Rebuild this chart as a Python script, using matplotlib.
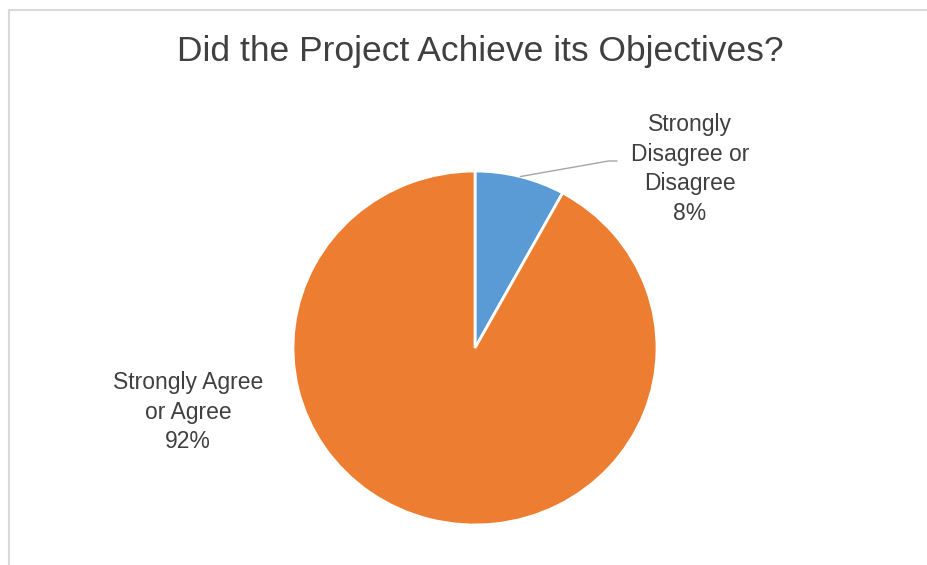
import matplotlib
matplotlib.use("Agg")
import matplotlib.pyplot as plt
from matplotlib.patches import Rectangle
import numpy as np

title = "Did the Project Achieve its Objectives?"
categories = ["Strongly\nDisagree or\nDisagree", "Strongly Agree\nor Agree"]
shares = [8, 92]
colors = ["#5B9BD5", "#ED7D31"]

W, H = 928, 565
fig = plt.figure(figsize=(W / 100, H / 100), dpi=100)

# chart area border (only left and top visible in the crop)
fig.add_artist(Rectangle((9 / W, -1), 2, 1 + (1 - 10 / H), transform=fig.transFigure,
                         fill=False, edgecolor="#D9D9D9", linewidth=1.5))

# pie is slightly wider than tall in the reference
cx, cy, rx, ry = 475, 348, 182, 177
ax = fig.add_axes([(cx - rx) / W, (H - cy - ry) / H, 2 * rx / W, 2 * ry / H])
wedges, _ = ax.pie(shares, colors=colors, startangle=90, counterclock=False,
                   wedgeprops=dict(edgecolor="white", linewidth=2))
ax.set_aspect("auto")
ax.set_xlim(-1, 1)
ax.set_ylim(-1, 1)
ax.axis("off")

txt = "#404040"
# leader line from the small slice to its label
w = wedges[0]
mid = np.deg2rad((w.theta1 + w.theta2) / 2)
ax.annotate("", xy=(np.cos(mid), np.sin(mid)),
            xytext=(617, H - 161), textcoords="figure pixels",
            arrowprops=dict(arrowstyle="-", color="#A6A6A6", lw=1,
                            shrinkA=0, shrinkB=0,
                            connectionstyle="angle,angleA=0,angleB=10,rad=0"))
fig.text(690 / W, 1 - 169 / H, f"{categories[0]}\n{shares[0]}%", ha="center", va="center",
         fontsize=16.5, color=txt, family="Liberation Sans", linespacing=1.36)
fig.text(188 / W, 1 - 412 / H, f"{categories[1]}\n{shares[1]}%", ha="center", va="center",
         fontsize=16.5, color=txt, family="Liberation Sans", linespacing=1.36)

fig.text(480 / W, 1 - 52 / H, title, ha="center", va="center", fontsize=25.5,
         color=txt, family="Liberation Sans")

fig.savefig("out.png", dpi=100)
